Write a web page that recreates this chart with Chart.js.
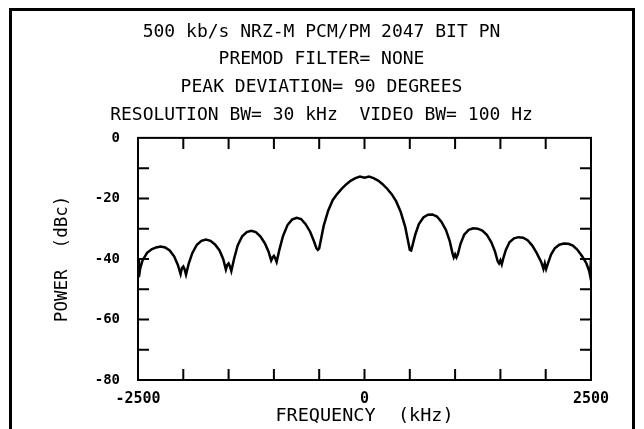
<!DOCTYPE html>
<html>
<head>
<meta charset="utf-8">
<script src="https://cdn.jsdelivr.net/npm/chart.js@4/dist/chart.umd.min.js"></script>
<style>
  html, body { margin: 0; padding: 0; background: #fff; overflow: hidden; }
  #wrap { position: relative; width: 644px; height: 429px; }
  #frame { position: absolute; left: 9px; top: 8px; width: 620px; height: 440px;
           border: 3px solid #000; border-bottom: none; }
  canvas { position: absolute; left: 0; top: 0; }
</style>
</head>
<body>
<div id="wrap">
  <div id="frame"></div>
  <canvas id="psdChart" width="644" height="429"></canvas>
</div>
<script>
// Spectrum trace (kHz, dBc)
const freqKhz = [
  -2500, -2490, -2475, -2450, -2400, -2350, -2300, -2250, -2200, -2150, -2100, -2060, -2030, -2015, -2000, -1985, -1970, -1940,
  -1900, -1850, -1800, -1750, -1700, -1650, -1600, -1560, -1530, -1515, -1500, -1485, -1470, -1440,
  -1400, -1350, -1300, -1250, -1200, -1150, -1100, -1060, -1030, -1015, -1000, -985, -970, -940,
  -900, -850, -800, -750, -700, -650, -600, -560, -530, -515, -500, -480, -450,
  -400, -350, -300, -250, -200, -150, -100, -50, 0, 50, 100, 150, 200, 250, 300, 350, 400,
  450, 480, 500, 515, 530, 560, 600, 650, 700, 750, 800, 850, 900, 940, 970, 985, 1000, 1015, 1030, 1060,
  1100, 1150, 1200, 1250, 1300, 1350, 1400, 1440, 1470, 1485, 1500, 1515, 1530, 1560,
  1600, 1650, 1700, 1750, 1800, 1850, 1900, 1950, 1975, 1990, 2005, 2025, 2060,
  2100, 2150, 2200, 2250, 2300, 2350, 2400, 2450, 2480, 2490, 2500
];
const powerDbc = [
  -40, -46, -43, -40.5, -38, -36.8, -36.2, -35.9, -36.2, -37.2, -39.2, -42, -45, -43, -42.5, -43.5, -45.2, -41.5,
  -38, -35.3, -34, -33.6, -34, -35.2, -37.2, -40, -43.5, -42, -41.5, -42.5, -44, -40,
  -35.5, -32.5, -31.1, -30.7, -31.1, -32.5, -34.8, -37.5, -40.5, -39.5, -39, -39.8, -41, -37,
  -32.5, -28.8, -27, -26.4, -26.8, -28.5, -31, -34, -36.5, -37, -36.5, -33.5, -29,
  -24, -20.5, -18.5, -16.8, -15.3, -14.1, -13.3, -12.8, -13.2, -12.8, -13.3, -14.1, -15.3, -16.8, -18.6, -21, -24.5,
  -29.5, -34, -37, -37.2, -35.5, -32, -28.5, -26.3, -25.4, -25.3, -26, -27.8, -30.5, -34, -38, -39.5, -38.5, -39.5, -38.5, -35,
  -32, -30.4, -29.9, -30, -30.6, -32, -34.5, -37.5, -40.8, -41.5, -40.5, -41.8, -40, -37,
  -34.5, -33.2, -32.8, -33, -33.8, -35.5, -38, -41, -43.3, -41.5, -43.3, -41.5, -38.5,
  -36.5, -35.3, -34.9, -35, -35.6, -37, -39, -41.5, -44, -45.5, -40
];

// axis ticks
const yMinorTicks = [-70, -60, -50, -40, -30, -20, -10];
const xMinorTicks = [-2000, -1500, -1000, -500, 0, 500, 1000, 1500, 2000];
const xLabelTicks = [-2500, 0, 2500];

const titleLines = [
  '500 kb/s NRZ-M PCM/PM 2047 BIT PN',
  'PREMOD FILTER= NONE',
  'PEAK DEVIATION= 90 DEGREES',
  'RESOLUTION BW= 30 kHz  VIDEO BW= 100 Hz'
];

const FONT = '"DejaVu Sans Mono", monospace';
const INK = '#000';
const TICK = 11;

// box round the plot plus inward tick marks on all four sides
const boxTicks = {
  id: 'boxTicks',
  afterDatasetsDraw(chart) {
    const { ctx, chartArea: a, scales: { x, y } } = chart;
    ctx.save();
    ctx.strokeStyle = INK;
    ctx.lineWidth = 2;
    ctx.strokeRect(a.left, a.top, a.width, a.height);
    ctx.beginPath();
    yMinorTicks.forEach(v => {
      const py = y.getPixelForValue(v);
      ctx.moveTo(a.left, py); ctx.lineTo(a.left + TICK, py);
      ctx.moveTo(a.right, py); ctx.lineTo(a.right - TICK, py);
    });
    xMinorTicks.forEach(v => {
      const px = x.getPixelForValue(v);
      ctx.moveTo(px, a.top); ctx.lineTo(px, a.top + TICK);
      ctx.moveTo(px, a.bottom); ctx.lineTo(px, a.bottom - TICK);
    });
    ctx.stroke();
    ctx.restore();
  }
};

const ctx = document.getElementById('psdChart').getContext('2d');
new Chart(ctx, {
  type: 'line',
  data: {
    datasets: [{
      data: freqKhz.map((f, i) => ({ x: f, y: powerDbc[i] })),
      borderColor: INK,
      borderWidth: 2.5,
      pointRadius: 0,
      tension: 0,
      fill: false
    }]
  },
  options: {
    responsive: false,
    animation: false,
    layout: { padding: { left: 52, right: 53, top: 0, bottom: 0 } },
    plugins: {
      legend: { display: false },
      tooltip: { enabled: false },
      title: {
        display: true,
        text: titleLines,
        color: INK,
        font: { family: FONT, size: 18, weight: 'normal', lineHeight: 1.54 },
        padding: { top: 18, bottom: 9 }
      }
    },
    scales: {
      x: {
        type: 'linear',
        min: -2500,
        max: 2500,
        afterFit(s) { s.height = 49; },
        afterBuildTicks(s) { s.ticks = xLabelTicks.map(v => ({ value: v })); },
        grid: { display: false },
        border: { display: false },
        ticks: {
          color: INK,
          font: { family: FONT, size: 15, weight: 'bold' },
          padding: 2,
          maxRotation: 0,
          callback: v => String(v)
        },
        title: {
          display: true,
          text: 'FREQUENCY  (kHz)',
          color: INK,
          font: { family: FONT, size: 18.5 },
          padding: { top: 0, bottom: 2 }
        }
      },
      y: {
        min: -80,
        max: 0,
        afterFit(s) { s.width = 86; },
        grid: { display: false },
        border: { display: false },
        ticks: { stepSize: 20, color: INK, font: { family: FONT, size: 14, weight: 'bold' }, padding: 10 },
        title: {
          display: true,
          text: 'POWER  (dBc)',
          color: INK,
          font: { family: FONT, size: 17.5 },
          padding: 0
        }
      }
    }
  },
  plugins: [boxTicks]
});
</script>
</body>
</html>
